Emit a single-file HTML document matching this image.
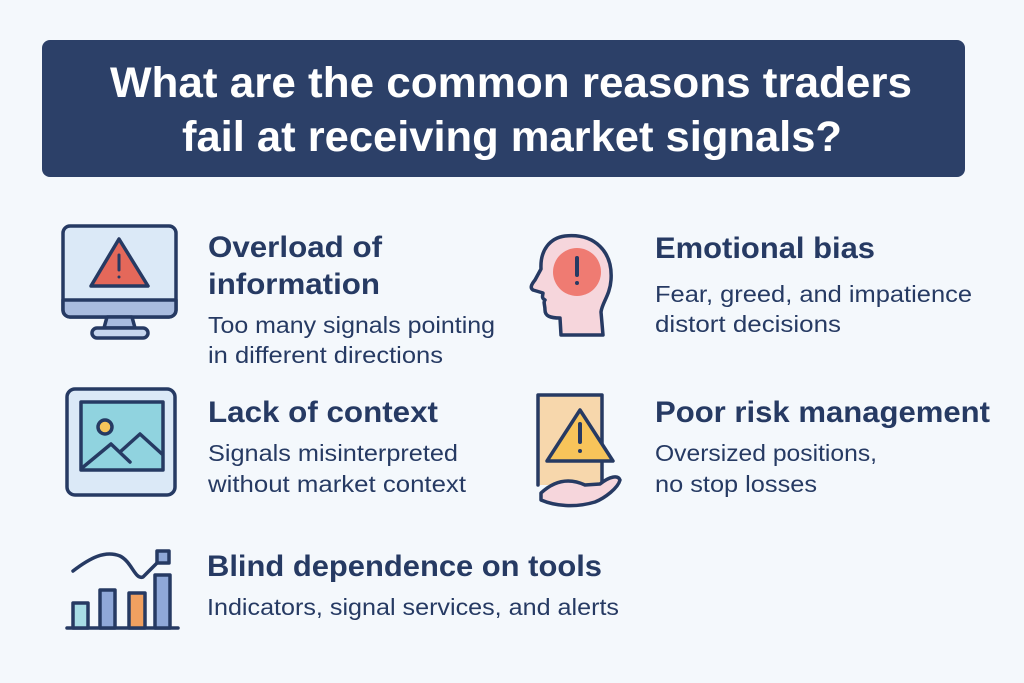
<!DOCTYPE html>
<html><head><style>
html,body{margin:0;padding:0;background:#f4f8fc;}
svg{display:block;font-family:"Liberation Sans",sans-serif;}
.h{font-weight:bold;font-size:30px;fill:#263a63;}
.b{font-size:23px;fill:#263a63;}
</style></head><body>
<svg width="1024" height="683" viewBox="0 0 1024 683">
<rect width="1024" height="683" fill="#f4f8fc"/>
<rect x="42" y="40" width="923" height="137" rx="8" fill="#2c4068"/>
<text x="110" y="97" fill="#fff" font-weight="bold" font-size="43" textLength="802" lengthAdjust="spacingAndGlyphs">What are the common reasons traders</text>
<text x="182" y="151" fill="#fff" font-weight="bold" font-size="43" textLength="660" lengthAdjust="spacingAndGlyphs">fail at receiving market signals?</text>

<g stroke="#263a63" stroke-width="3.5" stroke-linejoin="round" stroke-linecap="round">
<rect x="63" y="226" width="113" height="91" rx="7" fill="#dbe9f7"/>
<path d="M63 300 H176 V310 a7 7 0 0 1 -7 7 H70 a7 7 0 0 1 -7 -7Z" fill="#a9bcdf"/>
<path d="M107 317 L104 328 H135 L132 317Z" fill="#a9bcdf"/>
<rect x="92" y="328" width="56" height="10" rx="5" fill="#c6d6ee"/>
<path d="M119 239 L148 286 H91Z" fill="#e4685a"/>
<line x1="119" y1="255" x2="119" y2="270" stroke-width="3"/>
<circle cx="119" cy="277" r="1.5" fill="#263a63" stroke="none"/>
<rect x="67" y="389" width="108" height="106" rx="8" fill="#dbe9f7"/>
<rect x="81" y="402" width="82" height="68" fill="#90d3df"/>
<circle cx="105" cy="427" r="7" fill="#f7c45a"/>
<path d="M82 468 L111 444 L130 462 M120 452 L140 434 L162 454" fill="none"/>
<line x1="67" y1="628" x2="178" y2="628"/>
<rect x="73" y="603" width="15" height="25" fill="#a8dde6"/>
<rect x="100" y="590" width="15" height="38" fill="#8fa8d8"/>
<rect x="129" y="593" width="16" height="35" fill="#f0a060"/>
<rect x="155" y="575" width="15" height="53" fill="#8fa8d8"/>
<path d="M73 571 C90 558 105 550 120 556 C132 562 135 580 143 577 L160 560" fill="none"/>
<rect x="157" y="551" width="12" height="12" fill="#8fa8d8"/>
<path d="M565 236 C595 233 613 252 611 280 C610 295 602 303 601 312 L603 335 H561 L560 318 C550 318 545 316 545 310 C545 305 543 302 545 300 C541 298 543 295 543 293 L533 290 C530 288 531 285 535 280 L541 269 C540 250 550 238 565 236Z" fill="#f6d6dc"/>
<circle cx="577" cy="272" r="24" fill="#ef7b72" stroke="none"/>
<line x1="577" y1="258" x2="577" y2="275" stroke-width="4"/>
<circle cx="577" cy="283" r="2" fill="#263a63" stroke="none"/>
<path d="M538 485 V395 H602 V485" fill="#f7d7ac"/>
<path d="M580 410 L613 461 H547Z" fill="#f7c45a"/>
<line x1="580" y1="424" x2="580" y2="442" stroke-width="4"/>
<circle cx="580" cy="451" r="2" fill="#263a63" stroke="none"/>
<path d="M541 493 C555 480 570 478 585 485 L600 484 C610 476 618 475 620 480 C618 488 605 498 595 502 C575 508 555 506 541 500Z" fill="#f6d6dc"/>
</g>

<text class="h" x="208" y="257" textLength="174" lengthAdjust="spacingAndGlyphs">Overload of</text>
<text class="h" x="208" y="294" textLength="172" lengthAdjust="spacingAndGlyphs">information</text>
<text class="b" x="208" y="333" textLength="287" lengthAdjust="spacingAndGlyphs">Too many signals pointing</text>
<text class="b" x="208" y="363" textLength="235" lengthAdjust="spacingAndGlyphs">in different directions</text>

<text class="h" x="655" y="258" textLength="220" lengthAdjust="spacingAndGlyphs">Emotional bias</text>
<text class="b" x="655" y="302" textLength="317" lengthAdjust="spacingAndGlyphs">Fear, greed, and impatience</text>
<text class="b" x="655" y="332" textLength="186" lengthAdjust="spacingAndGlyphs">distort decisions</text>

<text class="h" x="208" y="422" textLength="230" lengthAdjust="spacingAndGlyphs">Lack of context</text>
<text class="b" x="208" y="461" textLength="250" lengthAdjust="spacingAndGlyphs">Signals misinterpreted</text>
<text class="b" x="208" y="492" textLength="258" lengthAdjust="spacingAndGlyphs">without market context</text>

<text class="h" x="655" y="422" textLength="335" lengthAdjust="spacingAndGlyphs">Poor risk management</text>
<text class="b" x="655" y="461" textLength="222" lengthAdjust="spacingAndGlyphs">Oversized positions,</text>
<text class="b" x="655" y="492" textLength="162" lengthAdjust="spacingAndGlyphs">no stop losses</text>

<text class="h" x="207" y="576" textLength="395" lengthAdjust="spacingAndGlyphs">Blind dependence on tools</text>
<text class="b" x="207" y="615" textLength="412" lengthAdjust="spacingAndGlyphs">Indicators, signal services, and alerts</text>
</svg>
</body></html>
